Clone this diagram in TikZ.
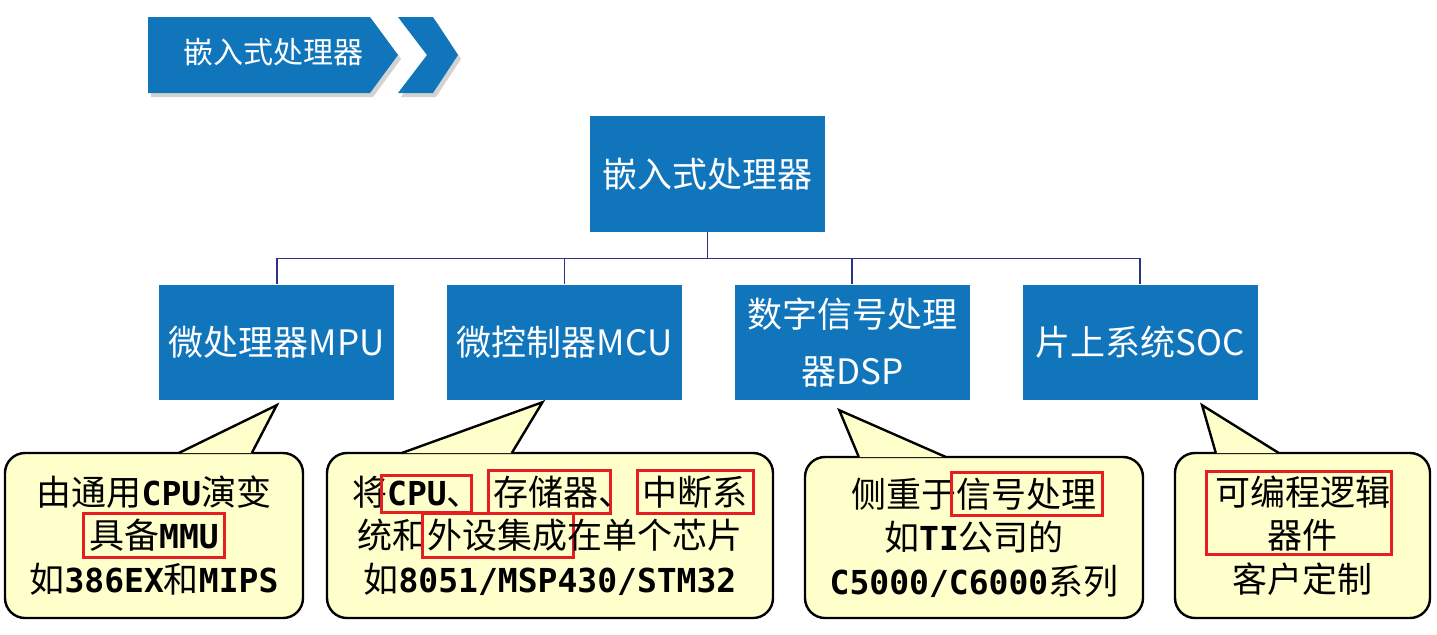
\documentclass[tikz,border=0pt]{standalone}
\usepackage{fontspec}
\setmainfont{Noto Sans CJK SC}
\newfontfamily\monofont{DejaVu Sans Mono}
\usepackage{tikz}
\usetikzlibrary{positioning,calc}
\definecolor{boxblue}{RGB}{16,117,187}
\definecolor{linknavy}{RGB}{45,50,135}
\definecolor{noteyellow}{RGB}{255,255,204}
\definecolor{hlred}{RGB}{230,30,36}

\newcommand{\monotxt}[1]{{\monofont\bfseries\fontsize{16.5}{21.75}\selectfont #1}}
\newcommand{\redframe}[1]{\smash{\rlap{\hspace{-3.5pt}\textcolor{hlred}{\setlength{\fboxrule}{1.5pt}\setlength{\fboxsep}{2pt}\fbox{\phantom{#1}}}}}#1}

\begin{document}
\begin{tikzpicture}[
    x=0.5pt, y=-0.5pt,
    procbox/.style={fill=boxblue, text=white, inner sep=0pt, minimum width=117.5pt, minimum height=57.5pt, align=center, font=\fontsize{17.5}{28.5}\selectfont},
    link/.style={draw=linknavy, line width=0.9pt},
    note/.style={draw=black, line width=1.2pt, fill=noteyellow, rounded corners=10pt, inner sep=0pt, align=center, font=\fontsize{17.5}{21.75}\selectfont},
    notetail/.style={draw=black, line width=1.2pt, line join=miter},
    hlframe/.style={draw=hlred, line width=1.5pt},
    bannertext/.style={text=white, inner sep=0pt, font=\fontsize{15}{18}\selectfont}
]
\useasboundingbox (0,0) rectangle (1437,634);

% title banner
\begin{scope}[shift={(3,4)}]
\fill[black!35, opacity=0.5] (148,17) -- (370,17) -- (398,55) -- (370,93) -- (148,93) -- cycle;
\fill[black!35, opacity=0.5] (398,17) -- (433,17) -- (458,55) -- (433,93) -- (398,93) -- (427,55) -- cycle;
\end{scope}
\fill[boxblue] (148,17) -- (370,17) -- (398,55) -- (370,93) -- (148,93) -- cycle;
\fill[boxblue] (398,17) -- (433,17) -- (458,55) -- (433,93) -- (398,93) -- (427,55) -- cycle;
\node[bannertext] (banner) at (273,52) {嵌入式处理器};

% tree
\node[procbox, minimum height=58pt] (root) at (707.5,174) {嵌入式处理器};
\node[procbox, below=26pt of root, xshift=-71.5pt] (mcu) {微控制器MCU};
\node[procbox, left=26pt of mcu] (mpu) {微处理器MPU};
\node[procbox, right=26pt of mcu] (dsp) {数字信号处理\\器DSP};
\node[procbox, right=26pt of dsp] (soc) {片上系统SOC};

\draw[link] (root.south) -- ++(0,26) -| (mpu.north);
\draw[link] (root.south) -- ++(0,26) -| (mcu.north);
\draw[link] (root.south) -- ++(0,26) -| (dsp.north);
\draw[link] (root.south) -- ++(0,26) -| (soc.north);

% callouts
\node[note, minimum width=149pt, minimum height=82.5pt] (mpunote) at (154,535.5)
  {由通用\monotxt{CPU}演变\\\redframe{具备\monotxt{MMU}}\\如\monotxt{386EX}和\monotxt{MIPS}};
\node[note, minimum width=223pt, minimum height=82.5pt] (mcunote) at (550,535.5)
  {将\redframe{\monotxt{CPU}\makebox[9.5pt][l]{、}}\hspace{14pt}\redframe{存储器\makebox[3pt][l]{、}}\hspace{19pt}\redframe{中断系}\\统和\redframe{外设集成}在单个芯片\\如\monotxt{8051/MSP430/STM32}};
\node[note, minimum width=169pt, minimum height=80.5pt] (dspnote) at (974,537.5)
  {侧重于\redframe{信号处理}\\如\monotxt{TI}公司的\\\monotxt{C5000/C6000}系列};
\node[note, minimum width=127.5pt, minimum height=82.5pt] (socnote) at (1302.5,535.5)
  {可编程逻辑\\器件\\客户定制};
\draw[hlframe] ($(socnote.north west)+(33,20)$) rectangle ($(socnote.north west)+(218,103)$);

\coordinate (mputip) at ($(mpu.south)+(0,5)$);
\coordinate (mcutip) at ($(mcu.south)+(-22,2)$);
\coordinate (dsptip) at ($(dsp.south)+(-13,10)$);
\coordinate (soctip) at ($(soc.south)+(62,5)$);

\fill[noteyellow] ($(mpunote.north west)+(175,1.2)$) -- (mputip) -- ($(mpunote.north west)+(248,1.2)$) -- cycle;
\draw[notetail] ($(mpunote.north west)+(175,1.2)$) -- (mputip) -- ($(mpunote.north west)+(248,1.2)$);
\fill[noteyellow] ($(mcunote.north west)+(76,1.2)$) -- (mcutip) -- ($(mcunote.north west)+(186,1.2)$) -- cycle;
\draw[notetail] ($(mcunote.north west)+(76,1.2)$) -- (mcutip) -- ($(mcunote.north west)+(186,1.2)$);
\fill[noteyellow] ($(dspnote.north west)+(55,1.2)$) -- (dsptip) -- ($(dspnote.north west)+(142,1.2)$) -- cycle;
\draw[notetail] ($(dspnote.north west)+(55,1.2)$) -- (dsptip) -- ($(dspnote.north west)+(142,1.2)$);
\fill[noteyellow] ($(socnote.north west)+(42,1.2)$) -- (soctip) -- ($(socnote.north west)+(105,1.2)$) -- cycle;
\draw[notetail] ($(socnote.north west)+(42,1.2)$) -- (soctip) -- ($(socnote.north west)+(105,1.2)$);
\end{tikzpicture}
\end{document}
